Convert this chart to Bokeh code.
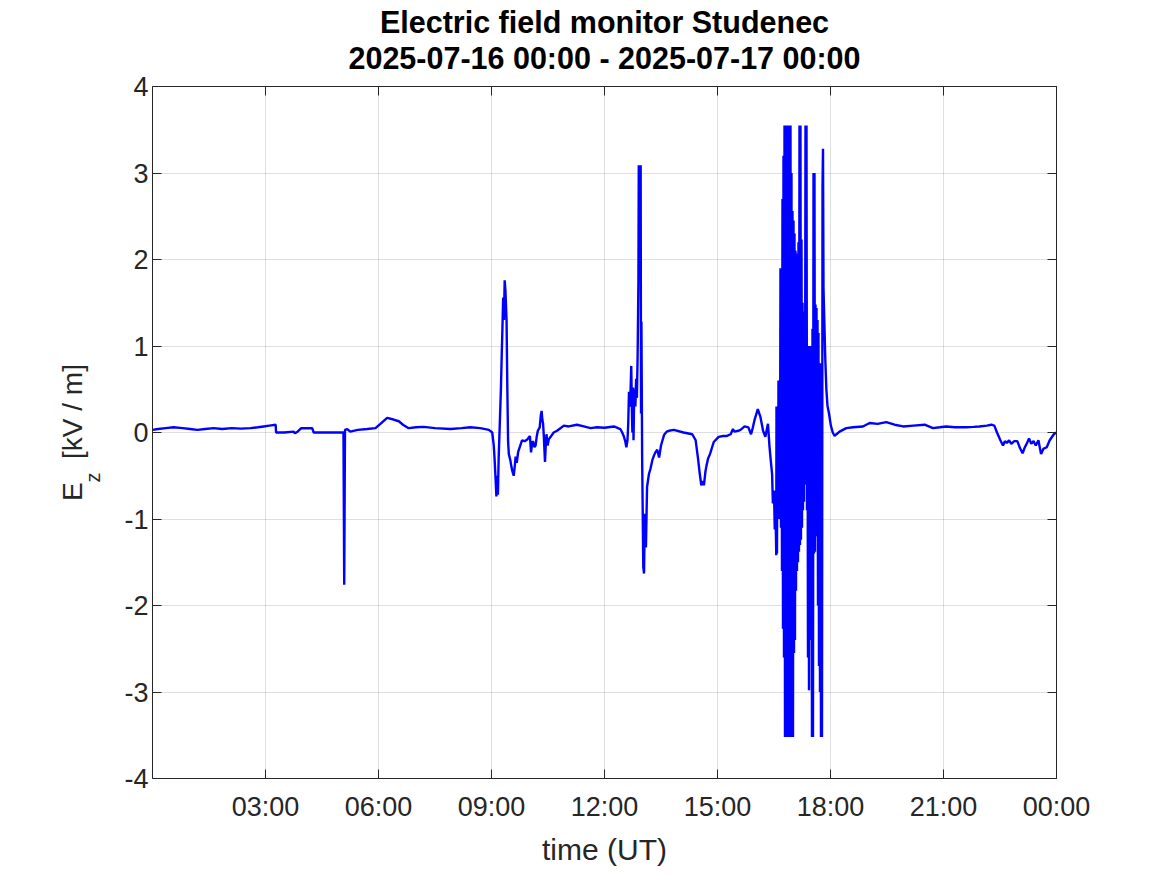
import pandas as pd
from bokeh.plotting import figure
from bokeh.models import (ColumnDataSource, Range1d, DatetimeAxis, LinearAxis, FixedTicker,
                          DatetimeTickFormatter, CustomJSTickFormatter, Title)
from bokeh.embed import file_html
from bokeh.resources import INLINE

# ---------------- data (hours after 2025-07-16 00:00 UT, Ez in kV/m) ----------------
day_start = "2025-07-16 00:00"
title_line1 = "Electric field monitor Studenec"
title_line2 = "2025-07-16 00:00 - 2025-07-17 00:00"
x_tick_hours = [3, 6, 9, 12, 15, 18, 21, 24]
y_ticks = [-4, -3, -2, -1, 0, 1, 2, 3, 4]

hours_night = [0.00, 0.15, 0.35, 0.56, 0.80, 1.00, 1.19, 1.40, 1.62, 1.85, 2.10, 2.35, 2.60, 2.80,
               2.95, 3.10, 3.27, 3.28, 3.50, 3.75, 3.78, 3.85, 3.95, 4.10, 4.24, 4.28, 4.60, 5.07,
               5.09, 5.11, 5.17, 5.25, 5.45, 5.70, 5.92, 6.05, 6.23, 6.40, 6.54, 6.65, 6.80, 7.00,
               7.20, 7.50, 7.91, 8.20, 8.44, 8.70, 8.93]
ez_night = [0.03, 0.04, 0.05, 0.06, 0.05, 0.04, 0.03, 0.04, 0.05, 0.04, 0.05, 0.045, 0.05, 0.06,
            0.07, 0.08, 0.09, 0.00, 0.00, 0.01, -0.01, 0.01, 0.05, 0.05, 0.05, 0.00, 0.00, 0.00,
            -1.76, 0.03, 0.04, 0.01, 0.03, 0.04, 0.05, 0.10, 0.17, 0.15, 0.13, 0.09, 0.05, 0.06,
            0.065, 0.05, 0.04, 0.05, 0.06, 0.05, 0.03]

hours_morning = [9.02, 9.06, 9.08, 9.11, 9.13, 9.15, 9.17, 9.19, 9.22, 9.25, 9.27, 9.29, 9.31, 9.33,
                 9.35, 9.37, 9.40, 9.42, 9.44, 9.46, 9.50, 9.53, 9.55, 9.59, 9.62, 9.64, 9.67, 9.71,
                 9.75, 9.81, 9.88, 9.95, 10.02, 10.05, 10.08, 10.10, 10.14, 10.17, 10.20, 10.23,
                 10.28, 10.31, 10.33, 10.35, 10.37, 10.39, 10.42, 10.44, 10.46, 10.49, 10.52, 10.57,
                 10.65, 10.74, 10.83, 10.92, 11.05, 11.27, 11.45, 11.63, 11.80, 12.00, 12.25, 12.42]
ez_morning = [0.00, -0.15, -0.29, -0.55, -0.74, -0.50, -0.72, -0.30, 0.10, 0.50, 0.87, 1.20, 1.56, 1.30,
              1.76, 1.64, 1.29, 0.52, -0.10, -0.25, -0.32, -0.40, -0.44, -0.50, -0.38, -0.28, -0.35, -0.22,
              -0.17, -0.09, -0.10, -0.08, -0.04, -0.23, -0.12, -0.10, -0.17, -0.15, -0.05, 0.02,
              0.06, 0.20, 0.25, 0.15, 0.10, -0.05, -0.34, -0.15, -0.02, -0.15, -0.08, -0.05,
              0.00, 0.02, 0.05, 0.08, 0.07, 0.09, 0.07, 0.05, 0.06, 0.055, 0.07, 0.04]

hours_afternoon = [12.47, 12.51, 12.55, 12.58, 12.61, 12.63, 12.65, 12.68, 12.71, 12.73, 12.74, 12.76,
                   12.77, 12.79, 12.82, 12.84, 12.86, 12.88, 12.90, 12.91, 12.93, 12.96, 12.97, 12.98,
                   13.00, 13.03, 13.05, 13.07, 13.10, 13.13, 13.18, 13.22, 13.27, 13.31, 13.35, 13.40,
                   13.45, 13.50, 13.58, 13.65, 13.71, 13.84, 14.10, 14.33, 14.42, 14.48, 14.53, 14.57,
                   14.61, 14.64, 14.68, 14.71, 14.75, 14.80, 14.90, 15.03, 15.15, 15.25, 15.35, 15.41,
                   15.45, 15.55, 15.61, 15.72, 15.82, 15.89, 15.94, 15.98, 16.07, 16.14, 16.21, 16.27,
                   16.34, 16.38, 16.42, 16.45, 16.47, 16.50, 16.52, 16.54, 16.56]
ez_afternoon = [0.00, -0.04, -0.10, -0.17, -0.09, 0.10, 0.47, 0.30, 0.77, 0.20, 0.00, 0.52,
                -0.09, 0.50, 0.30, 0.62, 0.40, 0.90, 1.74, 3.09, 2.50, 3.09, 0.22, 1.28,
                -0.32, -1.56, -1.63, -0.94, -1.33, -0.63, -0.48, -0.42, -0.32, -0.27, -0.23, -0.20,
                -0.29, -0.15, -0.03, 0.01, 0.02, 0.03, 0.00, -0.02, -0.09, -0.29, -0.48, -0.61,
                -0.56, -0.61, -0.45, -0.38, -0.30, -0.25, -0.11, -0.05, -0.04, -0.04, -0.02, 0.04,
                0.01, 0.02, 0.03, 0.07, 0.06, -0.02, 0.06, 0.14, 0.27, 0.18, 0.02, -0.05,
                0.10, -0.16, -0.35, -0.48, -0.82, -0.67, -1.12, -0.88, -1.42]

hours_storm = [16.566, 16.579, 16.593, 16.606, 16.619, 16.632, 16.646, 16.659, 16.672, 16.686,
               16.699, 16.712, 16.725, 16.739, 16.752, 16.765, 16.779, 16.792, 16.805, 16.818,
               16.832, 16.845, 16.858, 16.871, 16.885, 16.898, 16.911, 16.924, 16.938, 16.951,
               16.964, 16.977, 16.991, 17.004, 17.018, 17.031, 17.044, 17.057, 17.071, 17.084,
               17.097, 17.110, 17.124, 17.137, 17.150, 17.163, 17.177, 17.190, 17.203, 17.216,
               17.230, 17.243, 17.257, 17.270, 17.283, 17.296, 17.310, 17.323, 17.336, 17.349,
               17.363, 17.376, 17.389, 17.402, 17.416, 17.429, 17.442, 17.455, 17.469, 17.482,
               17.495, 17.508, 17.522, 17.535, 17.549, 17.562, 17.575, 17.588, 17.602, 17.615,
               17.628, 17.641, 17.655, 17.668, 17.681, 17.694, 17.708, 17.721, 17.734, 17.747,
               17.761, 17.774, 17.788, 17.801, 17.814,
               17.86, 17.89, 17.92, 17.96, 18.01, 18.06, 18.11, 18.16, 18.24]
ez_storm = [0.30, -1.40, 0.10, -0.90, 0.60, -1.00, 0.40, -0.70, 1.90, -1.10,
            1.20, -1.60, 2.70, -2.27, 3.20, -2.60, 3.55, -3.52, 3.55, -3.52,
            3.55, -3.52, 3.55, -3.52, 3.55, -3.52, 3.55, -3.52, 3.55, -3.40,
            3.00, -3.52, 2.56, -3.52, 2.45, -2.55, 2.30, -2.40, 2.10, -1.83,
            2.07, -1.60, 1.90, -1.50, 2.20, -1.38, 3.55, -1.30, 3.55, -1.24,
            2.23, -1.10, 1.50, -0.90, 1.10, -0.80, 1.40, -0.60, 3.55, -0.58,
            3.55, -0.90, 1.00, -2.60, 0.90, -2.98, 1.00, -2.20, 0.80, -2.40,
            1.00, -3.52, 1.20, -3.52, 3.00, -1.40, 3.00, -1.38, 1.48, -1.10,
            1.44, -1.20, 1.30, -2.00, 1.15, -2.70, 0.60, -3.00, 0.80, -3.52,
            0.50, -3.52, 2.85, 3.28, 1.67,
            0.87, 0.50, 0.31, 0.22, 0.08, 0.00, -0.04, -0.02, 0.01]

hours_evening = [18.42, 18.60, 18.86, 19.04, 19.25, 19.48, 19.70, 19.93, 20.20, 20.50, 20.72, 20.90,
                 21.07, 21.30, 21.60, 21.80, 21.95, 22.15, 22.27, 22.35, 22.42, 22.51, 22.58, 22.63,
                 22.68, 22.74, 22.80, 22.88, 22.96, 23.03, 23.10, 23.16, 23.22, 23.27, 23.33, 23.39,
                 23.45, 23.52, 23.59, 23.65, 23.74, 23.82, 23.93, 24.00]
ez_evening = [0.05, 0.06, 0.07, 0.11, 0.10, 0.12, 0.09, 0.07, 0.08, 0.09, 0.05, 0.06,
              0.07, 0.06, 0.06, 0.065, 0.07, 0.08, 0.09, 0.08, 0.00, -0.09, -0.15, -0.10,
              -0.12, -0.09, -0.13, -0.10, -0.10, -0.18, -0.24, -0.17, -0.12, -0.07, -0.13, -0.10,
              -0.15, -0.09, -0.25, -0.19, -0.17, -0.09, -0.02, 0.00]

# ---------------- build ----------------
hours = hours_night + hours_morning + hours_afternoon + hours_storm + hours_evening
ez = ez_night + ez_morning + ez_afternoon + ez_storm + ez_evening

base = pd.Timestamp(day_start)
times = base + pd.to_timedelta(hours, unit="h")
source = ColumnDataSource(data=dict(t=times, ez=ez))

FONT = "Liberation Sans"
DARK = "#262626"

p = figure(width=1160, height=870, x_axis_type="datetime",
           x_range=Range1d(base, base + pd.Timedelta(hours=24)), y_range=Range1d(-4, 4),
           output_backend="svg", toolbar_location=None,
           min_border_left=152, min_border_right=104, min_border_top=86, min_border_bottom=92)
p.background_fill_color = "white"
p.border_fill_color = "white"
p.outline_line_color = None

p.line("t", "ez", source=source, line_color="#0000ff", line_width=2.4)

x_ticks_ms = [int((base + pd.Timedelta(hours=h)).value // 10**6) for h in x_tick_hours]
xticker = FixedTicker(ticks=x_ticks_ms)
yticker = FixedTicker(ticks=y_ticks)
fmt = DatetimeTickFormatter(minutes="%H:%M", hourmin="%H:%M", hours="%H:%M", days="%H:%M")


def style_axis(ax):
    ax.major_tick_in = 9
    ax.major_tick_out = 0
    ax.minor_tick_in = 0
    ax.minor_tick_out = 0
    ax.axis_line_color = DARK
    ax.axis_line_width = 1
    ax.major_tick_line_color = DARK
    ax.major_tick_line_width = 1
    ax.major_label_text_font = FONT
    ax.major_label_text_font_size = "27px"
    ax.major_label_text_color = DARK


xa = p.xaxis[0]
xa.ticker = xticker
xa.formatter = fmt
style_axis(xa)
xa.major_label_standoff = 13
xa.axis_label = "time (UT)"
xa.axis_label_text_font = FONT
xa.axis_label_text_font_size = "30px"
xa.axis_label_text_font_style = "normal"
xa.axis_label_text_color = DARK
xa.axis_label_standoff = 8

ya = p.yaxis[0]
ya.ticker = yticker
ya.major_label_overrides = {v: str(v) for v in y_ticks}
style_axis(ya)
ya.major_label_standoff = 4

# y label "E_z [kV / m]": subscript "z" as the lone tick label of a bare second left axis,
# and "E   [kV / m]" as that axis' label
ylab = LinearAxis(ticker=FixedTicker(ticks=[-0.52]), formatter=CustomJSTickFormatter(code="return 'z'"))
ylab.axis_line_color = None
ylab.major_tick_line_color = None
ylab.minor_tick_line_color = None
ylab.major_tick_in = 0
ylab.major_tick_out = 0
ylab.minor_tick_in = 0
ylab.minor_tick_out = 0
ylab.major_label_orientation = "vertical"
ylab.major_label_text_font = FONT
ylab.major_label_text_font_size = "20px"
ylab.major_label_text_color = DARK
ylab.major_label_standoff = 17
ylab.axis_label = "E\u00a0\u00a0\u00a0[kV / m]"
ylab.axis_label_text_font = FONT
ylab.axis_label_text_font_size = "28px"
ylab.axis_label_text_font_style = "normal"
ylab.axis_label_text_color = DARK
ylab.axis_label_standoff = -8
p.add_layout(ylab, "left")

top = DatetimeAxis(ticker=xticker, formatter=CustomJSTickFormatter(code="return ''"))
style_axis(top)
top.major_label_text_font_size = "0px"
top.major_label_standoff = 0
p.add_layout(top, "above")
right = LinearAxis(ticker=yticker, formatter=CustomJSTickFormatter(code="return ''"))
style_axis(right)
right.major_label_text_font_size = "0px"
right.major_label_standoff = 0
p.add_layout(right, "right")

p.xgrid.ticker = xticker
p.ygrid.ticker = yticker
for g in (p.xgrid, p.ygrid):
    g.grid_line_color = DARK
    g.grid_line_alpha = 0.15
    g.grid_line_width = 1

# two-line bold title: a thin blank spacer, then the dates line, then the station line
p.title.text = ""
p.title.text_font_size = "0px"
p.title.standoff = 0
p.add_layout(Title(text="\u00a0", text_font_size="9px", standoff=0), "above")
for line in (title_line2, title_line1):
    p.add_layout(Title(text=line, align="center", text_font=FONT, text_font_size="30.5px",
                       text_font_style="bold", text_color="black", standoff=0), "above")

open("out.html", "w").write(file_html(p, INLINE))
